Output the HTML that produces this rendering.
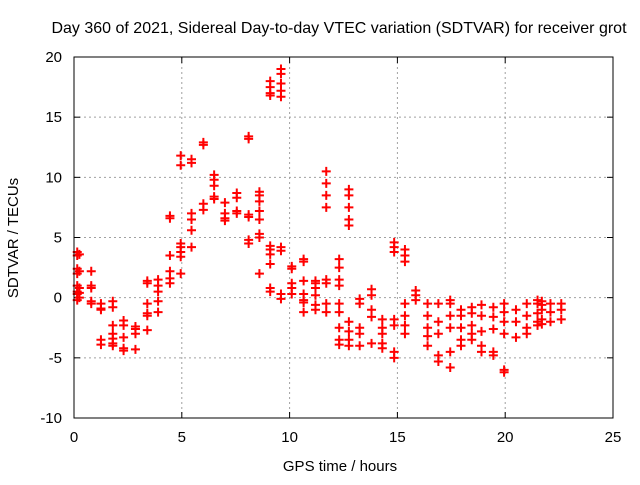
<!DOCTYPE html>
<html><head><meta charset="utf-8"><style>
body{margin:0;background:#fff}
svg text{font-family:"Liberation Sans",sans-serif;font-size:14px;fill:#000}
</style></head><body>
<svg id="chart" width="640" height="480" xmlns="http://www.w3.org/2000/svg">
<rect width="640" height="480" fill="#fff"/>
<text x="339" y="33" text-anchor="middle" style="font-size:16px">Day 360 of 2021, Sidereal Day-to-day VTEC variation (SDTVAR) for receiver grot</text>
<text x="340" y="471" text-anchor="middle" style="font-size:15px">GPS time / hours</text>
<text transform="translate(18,238) rotate(-90)" text-anchor="middle" style="font-size:15px">SDTVAR / TECUs</text>
<g id="grid"></g>
<g id="ticks"></g>
<g id="pts"></g>
<rect x="74" y="57" width="539" height="361" fill="none" stroke="#000" stroke-width="1"/>
</svg>
<script>
const hours=[0.15,0.25,0.8,1.25,1.8,2.3,2.85,3.4,3.9,4.45,4.95,5.45,6.0,6.5,7.0,7.55,8.1,8.6,9.1,9.6,10.1,10.65,11.2,11.7,12.3,12.75,13.25,13.8,14.3,14.85,15.35,15.85,16.4,16.9,17.45,17.95,18.45,18.9,19.45,19.95,20.5,21.0,21.5,21.7,22.1,22.6];
const values=[
[3.8,3.5,2.4,2.0,1.0,0.5,0.3,-0.2],
[3.6,2.2,0.8,0.4,0.0],
[2.2,1.0,0.8,-0.3,-0.5],
[-0.5,-0.9,-1.0,-3.5,-3.9],
[-0.3,-0.8,-2.3,-3.0,-3.4,-3.8,-4.0],
[-1.9,-2.3,-3.3,-4.2,-4.4],
[-2.4,-2.6,-3.0,-4.3],
[1.4,1.2,-0.5,-1.3,-1.5,-2.7],
[1.5,1.0,0.5,-0.3,-1.2],
[6.8,6.6,3.5,2.2,1.6,1.2],
[11.8,11.0,4.5,4.2,3.8,3.4,2.0],
[11.5,11.2,7.0,6.5,5.6,4.2],
[12.9,12.7,7.8,7.3],
[10.2,9.8,9.3,8.4,8.2],
[7.9,7.0,6.6,6.4],
[8.7,8.3,7.2,7.0],
[13.4,13.2,6.9,6.7,4.8,4.5],
[8.8,8.5,8.0,7.2,6.5,5.3,5.0,2.0],
[18.0,17.5,17.0,16.8,4.3,4.0,3.6,2.8,0.8,0.5],
[19.0,18.6,17.8,17.2,16.7,4.2,3.9,0.3,-0.1],
[2.6,2.4,1.2,0.8,0.3],
[3.2,3.0,1.4,0.3,-0.2,-1.2,-0.4],
[1.4,1.2,0.8,0.2,-0.6,-1.0],
[10.5,9.5,8.5,7.5,1.5,1.2,-0.5,-1.2],
[3.2,2.5,1.5,1.0,-0.5,-1.2,-2.5,-3.5,-3.9],
[9.0,8.5,7.5,6.5,6.0,-2.0,-2.8,-3.5,-4.0],
[-0.1,-0.5,-2.5,-3.0,-4.0],
[0.7,0.2,-1.0,-1.6,-3.8],
[-1.8,-2.5,-3.0,-3.8,-4.2],
[4.6,4.2,3.8,-1.8,-2.3,-4.5,-5.0],
[4.0,3.5,3.0,-0.5,-1.5,-2.3,-3.0],
[0.6,0.2,-0.2],
[-0.5,-1.5,-2.5,-3.2,-4.0],
[-0.5,-2.0,-3.0,-4.8,-5.3],
[-0.2,-0.5,-1.5,-2.5,-4.5,-5.8],
[-1.0,-1.5,-2.5,-3.5,-4.0],
[-0.8,-1.3,-2.3,-3.0,-3.5],
[-0.6,-1.5,-2.8,-4.0,-4.5],
[-0.8,-1.6,-2.6,-4.5,-4.8],
[-0.5,-1.2,-2.0,-3.0,-6.0,-6.2],
[-1.0,-2.0,-3.3],
[-0.5,-1.5,-2.5,-3.0],
[-0.2,-0.5,-1.3,-2.0,-2.3],
[-0.3,-0.6,-1.0,-1.8,-2.2],
[-0.5,-1.2,-2.0],
[-0.5,-1.0,-1.8]
];
const xTicks=[0,5,10,15,20,25];
const yTicks=[-10,-5,0,5,10,15,20];
const X0=74,X1=613,Y0=418,Y1=57;
function xs(h){return X0+(h-0)/(25-0)*(X1-X0);}
function ys(v){return Y0-(v+10)/30*(Y0-Y1);}
const NS="http://www.w3.org/2000/svg";
const grid=document.getElementById('grid'),ticks=document.getElementById('ticks'),pts=document.getElementById('pts');
function mk(tag,attrs,parent){const e=document.createElementNS(NS,tag);for(const k in attrs)e.setAttribute(k,attrs[k]);parent.appendChild(e);return e;}
xTicks.forEach(t=>{
  const x=xs(t);
  if(t>0&&t<25){const g=mk('line',{x1:x,x2:x,y1:Y1,y2:Y0,stroke:'#a0a0a0','stroke-dasharray':'2,3'},grid);
  
  }
  mk('line',{x1:x,x2:x,y1:Y0,y2:Y0-6,stroke:'#000'},ticks);
  mk('line',{x1:x,x2:x,y1:Y1,y2:Y1+6,stroke:'#000'},ticks);
  const l=mk('text',{x:x,y:Y0+24,'text-anchor':'middle',style:'font-size:15px'},ticks);l.textContent=t;
  
  
});
yTicks.forEach(t=>{
  const y=ys(t);
  if(t>-10&&t<20){const g=mk('line',{x1:X0,x2:X1,y1:y,y2:y,stroke:'#a0a0a0','stroke-dasharray':'2,3'},grid);
  
  }
  mk('line',{x1:X0,x2:X0+6,y1:y,y2:y,stroke:'#000'},ticks);
  mk('line',{x1:X1,x2:X1-6,y1:y,y2:y,stroke:'#000'},ticks);
  const l=mk('text',{x:X0-12,y:y+5,'text-anchor':'end',style:'font-size:15px'},ticks);l.textContent=t;
  
  
});
hours.forEach((h,i)=>{
  values[i].forEach(v=>{
    const x=xs(h),y=ys(v);
    const p=mk('path',{d:`M${x-4.5},${y}H${x+4.5}M${x},${y-4.5}V${y+4.5}`,stroke:'#ff0000','stroke-width':2,fill:'none'},pts);
    
    
  });
});
</script>
</body></html>
